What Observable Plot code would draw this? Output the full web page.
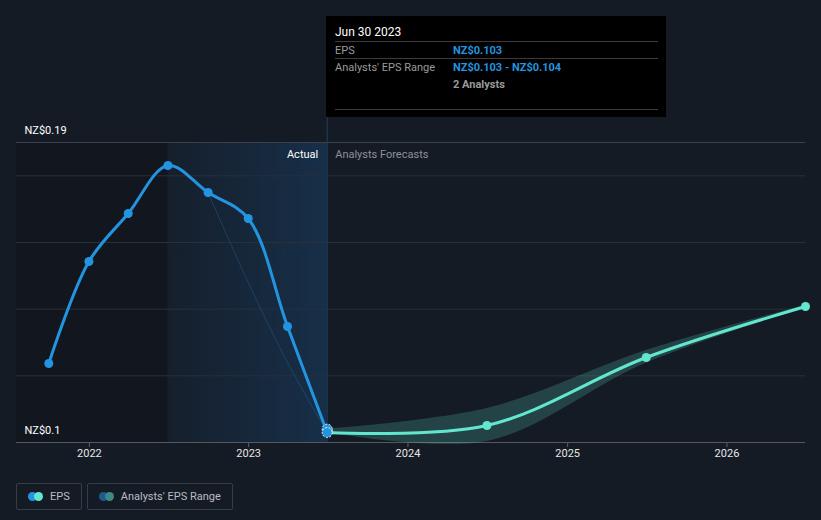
<!DOCTYPE html>
<html>
<head>
<meta charset="utf-8">
<script src="https://cdn.jsdelivr.net/npm/d3@7"></script>
<script src="https://cdn.jsdelivr.net/npm/@observablehq/plot@0.6"></script>
<style>
  html, body { margin: 0; padding: 0; background: #151b25; }
  body { font-family: Roboto, "Noto Sans", sans-serif; }
  #wrap { position: relative; width: 821px; height: 520px; overflow: hidden; }
  #chart svg { display: block; }
  #tip { position: absolute; left: 326px; top: 16px; width: 340px; height: 101px; background: #000; color: #9a9a9a; font-size: 11px; }
  #tip .row { position: absolute; left: 9px; right: 8px; }
  #tip .sep { position: absolute; left: 9px; right: 8px; height: 1px; background: #3b3b3b; }
  #tip .v { position: absolute; left: 118px; font-weight: bold; }
  #legend { position: absolute; left: 16px; top: 483px; display: flex; gap: 5px; }
  .lg { height: 25px; border: 1px solid #363c48; border-radius: 2px; display: flex; align-items: center; padding: 0 11px 0 11px; color: #b8bcc4; font-size: 11px; }
  .sw { position: relative; width: 15px; height: 9px; margin-right: 7px; }
  .sw span { position: absolute; top: 0; width: 9px; height: 9px; border-radius: 50%; }
</style>
</head>
<body>
<div id="wrap">
  <div id="chart"></div>
  <div id="tip"></div>
  <div id="legend"></div>
</div>
<script>
// ---- data ----
const actualDates = ["2021-09-30","2021-12-31","2022-03-31","2022-06-30","2022-09-30","2022-12-31","2023-03-31","2023-06-30"];
const actualEps   = [0.1237, 0.1543, 0.1687, 0.1831, 0.1750, 0.1672, 0.1348, 0.1030];

const pastForecastDates = ["2022-09-30","2022-12-31","2023-03-31","2023-06-30"];
const pastForecastEps   = [0.1750, 0.1480, 0.1240, 0.1030];

const forecastDates = ["2023-06-30","2024-06-30","2025-06-30","2026-06-30"];
const forecastEps   = [0.1030, 0.1051, 0.1255, 0.1408];
const rangeLow      = [0.1030, 0.1003, 0.1238, 0.1404];
const rangeHigh     = [0.1040, 0.1102, 0.1276, 0.1412];

const yGrid = [0.10, 0.12, 0.14, 0.16, 0.18, 0.19];
const yLabels = [{v: 0.19, t: "NZ$0.19"}, {v: 0.10, t: "NZ$0.1"}];
const xTickYears = [2022, 2023, 2024, 2025, 2026];

const tipDate = "Jun 30 2023";
const tipEps = "NZ$0.103";
const tipRange = "NZ$0.103 - NZ$0.104";
const tipAnalysts = "2 Analysts";

// ---- build ----
const P = s => new Date(s + "T00:00:00Z");
const actual = actualDates.map((d, i) => ({date: P(d), v: actualEps[i]}));
const past = pastForecastDates.map((d, i) => ({date: P(d), v: pastForecastEps[i]}));
const fc = forecastDates.map((d, i) => ({date: P(d), v: forecastEps[i], lo: rangeLow[i], hi: rangeHigh[i]}));
const xStart = P("2021-07-18"), xEnd = P("2026-06-30");
const splitPast = P("2022-06-30"), nowD = P("2023-06-30");

const BLUE = "#2394df", TEAL = "#63e6cf";

const defs = () => {
  const g = d3.create("svg:defs");
  const lg = g.append("linearGradient").attr("id", "actGrad").attr("x1", "0").attr("x2", "1").attr("y1", "0").attr("y2", "0");
  lg.append("stop").attr("offset", "0%").attr("stop-color", "#1d6fb8").attr("stop-opacity", 0.05);
  lg.append("stop").attr("offset", "100%").attr("stop-color", "#1d6fb8").attr("stop-opacity", 0.24);
  return g.node();
};

const chart = Plot.plot({
  width: 821,
  height: 470,
  marginTop: 142,
  marginBottom: 28,
  marginLeft: 16,
  marginRight: 16,
  style: {background: "transparent", fontFamily: "Roboto, sans-serif", overflow: "visible"},
  x: {type: "utc", domain: [xStart, xEnd]},
  y: {domain: [0.1, 0.19], axis: null},
  marks: [
    defs,
    Plot.rect([{x1: xStart, x2: splitPast}], {x1: "x1", x2: "x2", y1: 0.1, y2: 0.19, fill: "#11151c", fillOpacity: 0.75}),
    Plot.rect([{x1: splitPast, x2: nowD}], {x1: "x1", x2: "x2", y1: 0.1, y2: 0.19, fill: "url(#actGrad)"}),
    Plot.ruleY(yGrid.filter(v => v !== 0.1 && v !== 0.19), {stroke: "#2a2f3a", strokeWidth: 1}),
    Plot.ruleY([0.19], {stroke: "#3b404b", strokeWidth: 1}),
    Plot.ruleX([nowD], {y1: 0.1, y2: 0.1975, stroke: "#1f3d5c", strokeWidth: 1}),
    Plot.axisX({ticks: xTickYears.map(y => P(y + "-01-01")), tickFormat: d3.utcFormat("%Y"), tickSize: 5, tickPadding: 2, stroke: "#5a5f6a", fill: "#e6e6e6", fontSize: 11, label: null}),
    Plot.ruleY([0.1], {stroke: "#55595f", strokeWidth: 1}),
    Plot.text(yLabels, {x: xStart, y: "v", text: "t", dy: -12, textAnchor: "start", fill: "#ffffff", fontSize: 11, dx: 8}),
    Plot.text([{x: nowD, y: 0.19}], {x: "x", y: "y", text: ["Actual"], dx: -9, dy: 12, textAnchor: "end", fill: "#ffffff", fontSize: 11}),
    Plot.text([{x: nowD, y: 0.19}], {x: "x", y: "y", text: ["Analysts Forecasts"], dx: 8, dy: 12, textAnchor: "start", fill: "#8c9099", fontSize: 11}),
    Plot.areaY(fc, {x: "date", y1: "lo", y2: "hi", curve: "catmull-rom", fill: TEAL, fillOpacity: 0.2}),
    Plot.line(past, {x: "date", y: "v", curve: "catmull-rom", stroke: BLUE, strokeOpacity: 0.25, strokeWidth: 1}),
    Plot.line(actual, {x: "date", y: "v", curve: "catmull-rom", stroke: BLUE, strokeWidth: 3}),
    Plot.line(fc, {x: "date", y: "v", curve: "catmull-rom", stroke: TEAL, strokeWidth: 3}),
    Plot.dot(actual.slice(0, -1), {x: "date", y: "v", r: 4.5, fill: BLUE}),
    Plot.dot(fc.slice(1), {x: "date", y: "v", r: 4.5, fill: TEAL}),
    Plot.dot([{date: nowD, v: rangeHigh[0]}, {date: nowD, v: rangeLow[0]}], {x: "date", y: "v", r: 5, fill: BLUE, stroke: "#ffffff", strokeWidth: 1, strokeDasharray: "2,1.5"})
  ]
});
document.getElementById("chart").appendChild(chart);

// tooltip
const tip = document.getElementById("tip");
tip.innerHTML = `
  <div class="row" style="top:9px;color:#ffffff;font-size:12px;">${tipDate}</div>
  <div class="sep" style="top:25px"></div>
  <div class="row" style="top:28px;">EPS<span class="v" style="color:${BLUE}">${tipEps}</span></div>
  <div class="sep" style="top:42px"></div>
  <div class="row" style="top:45px;">Analysts' EPS Range<span class="v" style="color:${BLUE}">${tipRange}</span></div>
  <div class="row" style="top:62px;"><span class="v" style="color:#9a9a9a">${tipAnalysts}</span></div>
  <div class="sep" style="top:93px"></div>`;

// legend
const legend = document.getElementById("legend");
const items = [
  {label: "EPS", c1: BLUE, c2: TEAL},
  {label: "Analysts' EPS Range", c1: "#1f5a8a", c2: "#3d8a84"}
];
items.forEach(it => {
  const d = document.createElement("div");
  d.className = "lg";
  d.innerHTML = `<div class="sw"><span style="left:0;background:${it.c1}"></span><span style="left:6px;background:${it.c2}"></span></div>${it.label}`;
  legend.appendChild(d);
});
</script>
</body>
</html>
